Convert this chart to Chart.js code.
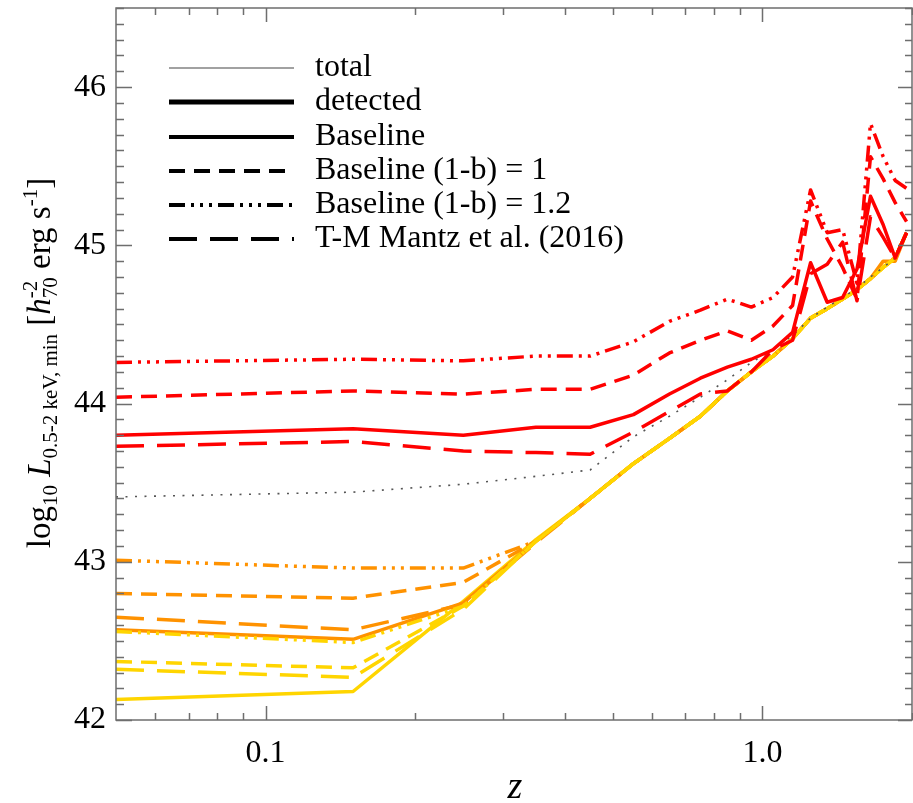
<!DOCTYPE html>
<html>
<head>
<meta charset="utf-8">
<script src="https://cdn.jsdelivr.net/npm/chart.js@4.4.1/dist/chart.umd.min.js"></script>
<style>
html, body { margin: 0; padding: 0; background: #fff; }
canvas { display: block; }
</style>
</head>
<body>
<canvas id="lumChart" width="913" height="803"></canvas>
<script>
// Data -----------------------------------------------------------------------------------

var redshifts = [0.05, 0.15, 0.25, 0.35, 0.45, 0.55, 0.65, 0.75, 0.85, 0.95,
                 1.05, 1.15, 1.25, 1.35, 1.45, 1.55, 1.65, 1.75, 1.85, 1.95];

var totalLum = [43.41, 43.44, 43.49, 43.54, 43.58, 43.79, 43.92, 44.04, 44.15, 44.26,
                44.34, 44.43, 44.54, 44.61, 44.67, 44.73, 44.80, 44.86, 44.92, 45.08];

var redBaseline = [43.80, 43.84, 43.80, 43.85, 43.85, 43.93, 44.06, 44.16, 44.23, 44.28,
                   44.34, 44.45, 44.89, 44.64, 44.67, 44.85, 45.31, 45.13, 44.92, 45.08];
var redBias10   = [44.04, 44.08, 44.06, 44.09, 44.09, 44.18, 44.32, 44.40, 44.46, 44.40,
                   44.49, 44.62, 45.28, 45.04, 44.86, 44.66, 45.56, 45.42, 45.27, 45.15];
var redBias12   = [44.26, 44.28, 44.27, 44.30, 44.30, 44.39, 44.52, 44.59, 44.66, 44.61,
                   44.67, 44.80, 45.35, 45.08, 45.10, 44.76, 45.77, 45.56, 45.41, 45.36];
var redMantz    = [43.73, 43.76, 43.70, 43.69, 43.68, 43.82, 43.95, 44.06, 44.08, 44.20,
                   44.34, 44.40, 44.82, 44.88, 45.02, 44.65, 45.18, 45.05, 44.92, 45.08];

var orangeBaseline = [42.57, 42.51, 42.74, 43.13, 43.40, 43.62, 43.78, 43.92, 44.08, 44.20,
                      44.30, 44.41, 44.54, 44.60, 44.66, 44.72, 44.79, 44.90, 44.90, 45.08];
var orangeBias10   = [42.80, 42.77, 42.87, 43.13, 43.40, 43.62, 43.78, 43.92, 44.08, 44.20,
                      44.30, 44.41, 44.54, 44.60, 44.66, 44.72, 44.79, 44.86, 44.92, 45.08];
var orangeBias12   = [43.01, 42.96, 42.96, 43.13, 43.40, 43.62, 43.78, 43.92, 44.08, 44.20,
                      44.30, 44.41, 44.54, 44.60, 44.66, 44.72, 44.79, 44.86, 44.92, 45.08];
var orangeMantz    = [42.65, 42.57, 42.73, 43.12, 43.40, 43.62, 43.78, 43.92, 44.08, 44.20,
                      44.30, 44.41, 44.54, 44.60, 44.66, 44.72, 44.79, 44.88, 44.92, 45.08];

var yellowBaseline = [42.13, 42.18, 42.75, 43.14, 43.40, 43.62, 43.78, 43.92, 44.08, 44.20,
                      44.30, 44.41, 44.54, 44.60, 44.66, 44.72, 44.79, 44.86, 44.92, 45.08];
var yellowBias10   = [42.37, 42.33, 42.72, 43.13, 43.40, 43.62, 43.78, 43.92, 44.08, 44.20,
                      44.30, 44.41, 44.54, 44.60, 44.66, 44.72, 44.79, 44.86, 44.92, 45.08];
var yellowBias12   = [42.56, 42.49, 42.72, 43.13, 43.40, 43.62, 43.78, 43.92, 44.08, 44.20,
                      44.30, 44.41, 44.54, 44.60, 44.66, 44.72, 44.79, 44.86, 44.92, 45.08];
var yellowMantz    = [42.32, 42.27, 42.70, 43.13, 43.40, 43.62, 43.78, 43.92, 44.08, 44.20,
                      44.30, 44.41, 44.54, 44.60, 44.66, 44.72, 44.79, 44.86, 44.92, 45.08];

var yTickValues = [42, 43, 44, 45, 46];
var xTickValues = [0.1, 1.0];
var xMinorValues = [0.06, 0.07, 0.08, 0.09, 0.2, 0.3, 0.4, 0.5, 0.6, 0.7, 0.8, 0.9, 2.0];

var legendLabels = ['total', 'detected', 'Baseline', 'Baseline (1-b) = 1',
                    'Baseline (1-b) = 1.2', 'T-M Mantz et al. (2016)'];

// Constants ------------------------------------------------------------------------------

var RED = '#ff0000';
var ORANGE = '#ff9200';
var YELLOW = '#ffd500';
var GRAY = '#555555';
var AXIS_COLOR = '#6e6e6e';

var LINE_WIDTH = 3.5;

var DASH_SOLID = [];
var DASH_SHORT = [16, 9];
var DASH_DOT3 = [16, 6, 3, 6, 3, 6, 3, 6];
var DASH_LONG = [28, 13];
var DASH_DOTTED = [2, 7.5];

var SERIF = '"Liberation Serif", "Times New Roman", serif';

// Functions ------------------------------------------------------------------------------

function toPoints(values) {
    return values.map(function (v, i) { return { x: redshifts[i], y: v }; });
}

function makeSeries(label, values, color, dash, width) {
    return {
        label: label,
        data: toPoints(values),
        borderColor: color,
        backgroundColor: color,
        borderWidth: width,
        borderDash: dash,
        borderCapStyle: 'butt',
        borderJoinStyle: 'round',
        pointRadius: 0,
        tension: 0,
        fill: false
    };
}

function drawRich(ctx, pieces) {
    var x = 0;
    pieces.forEach(function (p) {
        ctx.font = p.font;
        var w = ctx.measureText(p.text).width;
        ctx.fillText(p.text, x, p.dy || 0);
        if (p.under) {
            ctx.font = p.under.font;
            ctx.fillText(p.under.text, x, p.under.dy);
            w = Math.max(w, ctx.measureText(p.under.text).width);
        }
        x += w;
    });
    return x;
}

function measureRich(ctx, pieces) {
    var total = 0;
    pieces.forEach(function (p) {
        ctx.font = p.font;
        var w = ctx.measureText(p.text).width;
        if (p.under) {
            ctx.font = p.under.font;
            w = Math.max(w, ctx.measureText(p.under.text).width);
        }
        total += w;
    });
    return total;
}

function noScalePadding(scale) {
    scale.paddingTop = 0;
    scale.paddingBottom = 0;
    scale.paddingLeft = 0;
    scale.paddingRight = 0;
}

var frameAndLabels = {
    id: 'frameAndLabels',
    afterDraw: function (chart) {
        var ctx = chart.ctx;
        var area = chart.chartArea;
        var xs = chart.scales.x;
        var ys = chart.scales.y;

        ctx.save();
        ctx.strokeStyle = AXIS_COLOR;
        ctx.lineWidth = 1.5;
        ctx.setLineDash([]);
        ctx.strokeRect(area.left, area.top, area.right - area.left, area.bottom - area.top);

        // inward ticks on the x axes
        ctx.beginPath();
        xTickValues.concat(xMinorValues).forEach(function (v) {
            var px = Math.round(xs.getPixelForValue(v)) + 0.5;
            var len = xTickValues.indexOf(v) >= 0 ? 14 : 7;
            ctx.moveTo(px, area.bottom); ctx.lineTo(px, area.bottom - len);
            ctx.moveTo(px, area.top); ctx.lineTo(px, area.top + len);
        });
        // inward ticks on the y axes, every 0.1
        for (var k = 420; k <= 465; k++) {
            var v = k / 10;
            var py = Math.round(ys.getPixelForValue(v)) + 0.5;
            var major = k % 10 === 0;
            ctx.moveTo(area.left, py); ctx.lineTo(area.left + (major ? 16 : 8), py);
            ctx.moveTo(area.right, py); ctx.lineTo(area.right - (major ? 14 : 7), py);
        }
        ctx.stroke();

        // legend
        var styles = [
            { dash: [], width: 1.2, color: '#444' },
            { dash: [], width: 5, color: '#000' },
            { dash: [], width: 4, color: '#000' },
            { dash: DASH_SHORT, width: 4, color: '#000' },
            { dash: DASH_DOT3, width: 4, color: '#000' },
            { dash: DASH_LONG, width: 4, color: '#000' }
        ];
        var rowY = [68, 102, 137, 171, 205, 239];
        ctx.lineCap = 'butt';
        styles.forEach(function (s, i) {
            ctx.beginPath();
            ctx.strokeStyle = s.color;
            ctx.lineWidth = s.width;
            ctx.setLineDash(s.dash);
            ctx.moveTo(169, rowY[i]); ctx.lineTo(294, rowY[i]);
            ctx.stroke();
        });
        ctx.setLineDash([]);
        ctx.fillStyle = '#000';
        ctx.font = '32px ' + SERIF;
        ctx.textBaseline = 'middle';
        ctx.textAlign = 'left';
        legendLabels.forEach(function (t, i) { ctx.fillText(t, 315, rowY[i]); });

        // x axis title
        ctx.font = 'italic 38px ' + SERIF;
        ctx.textAlign = 'center';
        ctx.fillText('z', 515, 788);

        // y axis title with sub- and superscripts
        var big = '33px ' + SERIF;
        var bigIt = 'italic 33px ' + SERIF;
        var small = '21px ' + SERIF;
        var pieces = [
            { text: 'log', font: big },
            { text: '10', font: small, dy: 7 },
            { text: ' ', font: big },
            { text: 'L', font: bigIt },
            { text: '0.5-2 keV, min', font: small, dy: 7 },
            { text: ' [', font: big },
            { text: 'h', font: bigIt },
            { text: '-2', font: small, dy: -13, under: { text: '70', font: small, dy: 7 } },
            { text: ' erg s', font: big },
            { text: '-1', font: small, dy: -13 },
            { text: ']', font: big }
        ];
        ctx.textAlign = 'left';
        ctx.textBaseline = 'alphabetic';
        var total = measureRich(ctx, pieces);
        ctx.translate(50, 363 + total / 2);
        ctx.rotate(-Math.PI / 2);
        drawRich(ctx, pieces);
        ctx.restore();
    }
};

function createChart(canvasId) {
    var context = document.getElementById(canvasId).getContext('2d');

    // first in this list = drawn on top
    var datasets = [
        makeSeries('Baseline (1-b) = 1.2', redBias12, RED, DASH_DOT3, LINE_WIDTH),
        makeSeries('Baseline (1-b) = 1', redBias10, RED, DASH_SHORT, LINE_WIDTH),
        makeSeries('Baseline', redBaseline, RED, DASH_SOLID, LINE_WIDTH),
        makeSeries('T-M Mantz et al. (2016)', redMantz, RED, DASH_LONG, LINE_WIDTH),
        makeSeries('total', totalLum, GRAY, DASH_DOTTED, 1.6),
        makeSeries('Baseline (1-b) = 1.2', yellowBias12, YELLOW, DASH_DOT3, LINE_WIDTH),
        makeSeries('Baseline (1-b) = 1', yellowBias10, YELLOW, DASH_SHORT, LINE_WIDTH),
        makeSeries('T-M Mantz et al. (2016)', yellowMantz, YELLOW, DASH_LONG, LINE_WIDTH),
        makeSeries('Baseline (1-b) = 1.2', orangeBias12, ORANGE, DASH_DOT3, LINE_WIDTH),
        makeSeries('Baseline (1-b) = 1', orangeBias10, ORANGE, DASH_SHORT, LINE_WIDTH),
        makeSeries('T-M Mantz et al. (2016)', orangeMantz, ORANGE, DASH_LONG, LINE_WIDTH),
        makeSeries('Baseline', orangeBaseline, ORANGE, DASH_SOLID, LINE_WIDTH),
        makeSeries('Baseline', yellowBaseline, YELLOW, DASH_SOLID, LINE_WIDTH)
    ];

    var chart = new Chart(context, {
        type: 'line',
        data: { datasets: datasets },
        options: {
            responsive: false,
            animation: false,
            devicePixelRatio: 1,
            layout: { padding: { top: 8, right: 1, left: 0, bottom: 0 } },
            plugins: { legend: { display: false }, tooltip: { enabled: false } },
            scales: {
                x: {
                    type: 'logarithmic',
                    min: 0.05,
                    max: 2.0,
                    grid: { display: false, drawTicks: false },
                    border: { display: false },
                    afterBuildTicks: function (scale) {
                        scale.ticks = xTickValues.map(function (v) { return { value: v }; });
                    },
                    afterFit: function (scale) {
                        scale.height = 83;
                        noScalePadding(scale);
                    },
                    ticks: {
                        autoSkip: false,
                        maxRotation: 0,
                        padding: 14,
                        color: '#000',
                        font: { family: SERIF, size: 32 },
                        callback: function (value) { return value < 0.5 ? '0.1' : '1.0'; }
                    }
                },
                y: {
                    type: 'linear',
                    min: 42,
                    max: 46.5,
                    grid: { display: false, drawTicks: false },
                    border: { display: false },
                    afterBuildTicks: function (scale) {
                        scale.ticks = yTickValues.map(function (v) { return { value: v }; });
                    },
                    afterFit: function (scale) {
                        scale.width = 116;
                        noScalePadding(scale);
                    },
                    ticks: {
                        padding: 10,
                        color: '#000',
                        font: { family: SERIF, size: 32 },
                        callback: function (value) { return String(value); }
                    }
                }
            }
        },
        plugins: [frameAndLabels]
    });

    return chart;
}

createChart('lumChart');
</script>
</body>
</html>
